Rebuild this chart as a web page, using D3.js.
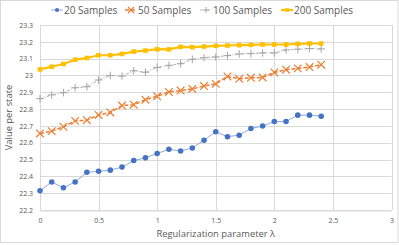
<!DOCTYPE html>
<html><head><meta charset="utf-8">
<script src="https://cdn.jsdelivr.net/npm/d3@7/dist/d3.min.js"></script>
<style>html,body{margin:0;padding:0;background:#fff}svg{display:block}</style>
</head><body>
<script>
const lambdas = [0,0.1,0.2,0.3,0.4,0.5,0.6,0.7,0.8,0.9,1.0,1.1,1.2,1.3,1.4,1.5,1.6,1.7,1.8,1.9,2.0,2.1,2.2,2.3,2.4];
const s20  = [22.314,22.367,22.332,22.367,22.424,22.430,22.437,22.455,22.494,22.510,22.536,22.561,22.551,22.569,22.615,22.665,22.636,22.645,22.685,22.699,22.726,22.726,22.764,22.764,22.758];
const s50  = [22.655,22.669,22.695,22.730,22.734,22.765,22.780,22.821,22.826,22.856,22.876,22.902,22.910,22.920,22.937,22.950,22.994,22.980,22.986,22.988,23.018,23.034,23.042,23.050,23.064];
const s100 = [22.862,22.884,22.898,22.927,22.933,22.973,23.000,22.996,23.028,23.019,23.048,23.060,23.070,23.096,23.106,23.110,23.118,23.128,23.130,23.134,23.134,23.152,23.156,23.160,23.158];
const s200 = [23.036,23.052,23.068,23.094,23.104,23.120,23.120,23.128,23.142,23.148,23.156,23.155,23.170,23.168,23.172,23.176,23.178,23.180,23.182,23.184,23.184,23.184,23.188,23.190,23.190];
const seriesNames = ["20 Samples","50 Samples","100 Samples","200 Samples"];
const xTicks = [0,0.5,1,1.5,2,2.5,3];
const yTicks = [22.2,22.3,22.4,22.5,22.6,22.7,22.8,22.9,23,23.1,23.2,23.3];
const xTitle = "Regularization parameter λ";
const yTitle = "Value per state";

const W = 399, H = 245;
const svg = d3.select("body").append("svg").attr("width", W).attr("height", H);
svg.append("rect").attr("x",0.5).attr("y",0.5).attr("width",W-1.5).attr("height",H-3)
  .attr("fill","#fff").attr("stroke","#D9D9D9");

const x = d3.scaleLinear().domain([0,3]).range([40,391.5]);
const y = d3.scaleLinear().domain([22.2,23.3]).range([210,25]);
const font = "'Open Sans', 'Liberation Sans', sans-serif";

// gridlines
svg.append("g").selectAll("line").data(yTicks).join("line")
  .attr("x1", x(0)).attr("x2", x(3))
  .attr("y1", d=>Math.round(y(d))+0.5).attr("y2", d=>Math.round(y(d))+0.5)
  .attr("stroke","#D9D9D9").attr("stroke-width",1);
svg.append("g").selectAll("line").data(xTicks).join("line")
  .attr("y1", y(22.2)).attr("y2", y(23.3))
  .attr("x1", d=>Math.round(x(d))+0.5).attr("x2", d=>Math.round(x(d))+0.5)
  .attr("stroke","#D9D9D9").attr("stroke-width",1);

// axes
const xAxis = d3.axisBottom(x).tickValues(xTicks).tickSize(0).tickPadding(8).tickFormat(d3.format("~g"));
const gx = svg.append("g").attr("transform",`translate(0,${Math.round(y(22.2))+0.5})`).call(xAxis);
gx.select(".domain").attr("stroke","#D9D9D9");
gx.selectAll("text").attr("fill","#595959").style("font-family",font).style("font-size","7px");
const yAxis = d3.axisLeft(y).tickValues(yTicks).tickSize(0).tickPadding(7).tickFormat(d3.format("~g"));
const gy = svg.append("g").attr("transform",`translate(${x(0)},0)`).call(yAxis);
gy.select(".domain").remove();
gy.selectAll("text").attr("fill","#595959").style("font-family",font).style("font-size","7px");

svg.append("text").attr("x", (x(0)+x(3))/2).attr("y", 236.5).attr("text-anchor","middle")
  .attr("fill","#595959").style("font-family",font).style("font-size","9.4px").text(xTitle);
svg.append("text").attr("transform",`translate(12,${(y(22.2)+y(23.3))/2}) rotate(-90)`)
  .attr("text-anchor","middle").attr("fill","#595959").style("font-family",font).style("font-size","9.4px").text(yTitle);

const styles = [
  {data:s20, line:"#8EAADB", lw:1, dash:null, color:"#4472C4", marker:"circle"},
  {data:s50, line:"#ED7D31", lw:1.5, dash:"4,2", color:"#ED7D31", marker:"x"},
  {data:s100, line:"#BFBFBF", lw:1.2, dash:"3,1.5,1,1.5", color:"#A5A5A5", marker:"plus"},
  {data:s200, line:"#FFC000", lw:2.2, dash:null, color:"#FFC000", marker:"square"}
];
const line = d3.line().x((d,i)=>x(lambdas[i])).y(d=>y(d));

function drawMarker(g, type, color, cx, cy, s) {
  if (type==="circle") g.append("circle").attr("cx",cx).attr("cy",cy).attr("r",s*0.75).attr("fill",color);
  else if (type==="square") g.append("rect").attr("x",cx-s*0.7).attr("y",cy-s*0.7).attr("width",s*1.4).attr("height",s*1.4).attr("fill",color);
  else if (type==="x") g.append("path").attr("d",`M${cx-s},${cy-s}L${cx+s},${cy+s}M${cx-s},${cy+s}L${cx+s},${cy-s}`).attr("stroke",color).attr("stroke-width",1.2).attr("fill","none");
  else if (type==="plus") g.append("path").attr("d",`M${cx-s},${cy}L${cx+s},${cy}M${cx},${cy-s}L${cx},${cy+s}`).attr("stroke",color).attr("stroke-width",1).attr("fill","none");
}

styles.forEach(st=>{
  const g = svg.append("g");
  g.append("path").datum(st.data).attr("d",line).attr("fill","none")
    .attr("stroke",st.line).attr("stroke-width",st.lw).attr("stroke-dasharray",st.dash);
  st.data.forEach((v,i)=>drawMarker(g, st.marker, st.color, x(lambdas[i]), y(v), st.marker==="circle"?3.7:st.marker==="square"?3.3:3.8));
});

// legend
const legendX = [51, 125, 200, 281];
const lg = svg.append("g");
seriesNames.forEach((n,i)=>{
  const st = styles[i];
  const lx = legendX[i], ly = 10;
  lg.append("line").attr("x1",lx).attr("x2",lx+12).attr("y1",ly).attr("y2",ly)
    .attr("stroke",st.line).attr("stroke-width",st.lw).attr("stroke-dasharray",st.dash);
  drawMarker(lg, st.marker, st.color, lx+6, ly, st.marker==="circle"?2.7:st.marker==="square"?2.6:3);
  lg.append("text").attr("x",lx+13).attr("y",ly+3.5).attr("fill","#595959")
    .style("font-family",font).style("font-size","10px").text(n);
});
</script>
</body></html>
